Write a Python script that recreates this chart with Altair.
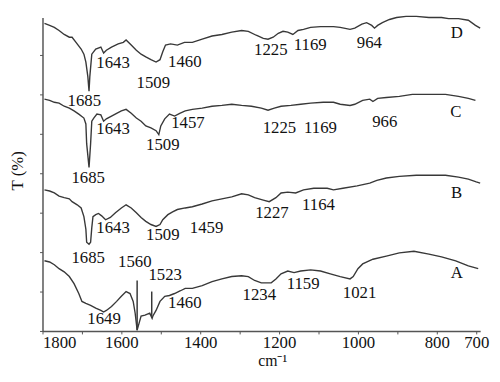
import altair as alt
import pandas as pd

# ---- spectra (wavenumber cm-1, transmittance in arbitrary offset units) ----
D_wn = [1795,1782,1770,1758,1745,1732,1725,1715,1702,1695,1690,1685,1682,1680,1675,1665,1652,1645,1638,1625,1608,1595,1588,1575,1562,1550,1538,1525,1512,1502,1495,1488,1475,1458,1440,1420,1395,1370,1345,1320,1295,1278,1258,1240,1228,1215,1202,1190,1178,1165,1152,1138,1120,1095,1062,1045,1020,1008,990,978,965,958,950,938,920,902,878,852,820,788,770,745,720,702,690]
D_T = [78,77.5,77,76.2,75.2,74.5,74.5,73.2,71.5,70.2,68.2,64.5,60.8,64.5,70.2,71.5,72,70.5,71.2,72,72.8,73.2,73.8,72.5,71.2,70.2,69.5,68.8,68.2,68.8,70.8,72.5,72.8,72.5,73.2,73.2,74,74.8,75.2,75.8,76.2,76,75,74.2,74,74.5,75.5,76,75.8,75.2,76.2,76.5,77,77.2,77.2,77,76.5,76.8,77.8,78.2,77.5,76.8,77.5,78.2,79,79.5,79.8,79.8,79.5,79.5,79.2,79.2,78.8,77.5,76.8]

C_wn = [1795,1782,1770,1758,1745,1732,1720,1708,1695,1690,1688,1682,1678,1675,1670,1662,1652,1645,1638,1625,1612,1600,1588,1575,1562,1550,1538,1525,1512,1505,1500,1490,1478,1465,1452,1438,1420,1395,1370,1345,1320,1295,1270,1245,1228,1212,1195,1170,1145,1120,1088,1062,1045,1020,1008,988,970,962,950,928,895,862,820,778,745,720,702]
C_T = [58.8,58.5,58,57.8,57,56.5,55.8,55,54,52.5,47.5,41.5,47.5,53.2,54,55,54.8,53.2,53.8,54.5,55.2,55.8,56.2,55.2,54,53.2,52,51.5,50.8,49.8,52,53.8,55,54.5,55.2,55.8,56.2,56.5,57,57.2,57.5,57.2,57,56.5,56,56.5,57,57.2,57.5,57.8,58,58,57.5,57.2,57.5,58.5,58.8,58.2,59,59.2,59.5,60,60,60,59.5,59,58.5]

B_wn = [1795,1782,1770,1758,1745,1732,1725,1712,1702,1695,1690,1688,1682,1678,1675,1672,1665,1658,1650,1640,1628,1615,1600,1588,1575,1562,1550,1538,1525,1512,1502,1495,1482,1470,1458,1438,1420,1395,1370,1345,1320,1295,1278,1262,1240,1225,1208,1195,1178,1158,1138,1112,1078,1062,1038,1002,970,952,928,895,852,820,778,745,720,700,690]
B_T = [35.8,35.5,35,34.2,33.8,33.5,32.8,32,31.2,29,25.8,22.5,22,22.5,26.2,29,29.5,29.8,29.2,28.2,28.8,30,31.2,32,31.2,30,28.8,27.8,27,26.5,27,28.2,29.5,30.2,30.8,31.2,31.5,32.2,33,33.5,34,34.8,34.5,33.8,33.2,32.8,33.8,35,35.2,35,35.8,36.2,36.2,35.8,36.2,36.8,37.5,38.2,38.8,39.2,39.5,39.5,39.5,39,38.5,37.8,37.5]

A_wn = [1795,1782,1770,1758,1745,1732,1720,1708,1700,1690,1678,1665,1652,1645,1638,1625,1612,1600,1588,1578,1570,1565,1560,1555,1550,1540,1528,1522,1520,1512,1502,1490,1478,1465,1450,1438,1420,1395,1370,1345,1320,1295,1278,1262,1245,1220,1208,1195,1178,1162,1145,1120,1095,1070,1045,1020,1012,1000,988,962,928,895,858,820,788,752,720,695]
A_T = [17.8,17.5,16.8,15.8,15,13.8,12,9.5,7.5,7,6.5,5.8,5.2,4.8,5.2,6.2,7.5,8.8,10,9.5,7.5,4.5,0.2,2,3.8,4,4.5,3.2,3.8,5.2,7.5,8.8,9,9.5,10.2,10.8,10.8,11.5,12.5,13.2,13.8,14,13.8,12.8,12.2,12.2,13.2,14.5,15.2,14.8,15.2,15.5,15.2,14.5,13.8,13.2,13.8,15.8,17,18.2,19,19.8,20.2,19.5,18.8,17.8,16.5,15.8]

# ---- peak pointer lines on spectrum A ----
ptr_wn = [1560, 1523]
ptr_top = [12.8, 10.0]
ptr_bot = [0.2, 3.8]

# ---- annotations ----
lab_text = ["1685","1643","1509","1460","1225","1169","964","D",
            "1685","1643","1509","1457","1225","1169","966","C",
            "1685","1643","1509","1459","1227","1164","B",
            "1649","1560","1523","1460","1234","1159","1021","A"]
lab_wn = [1694,1621,1519,1439,1221,1121,971,749,
          1684,1621,1495,1431,1199,1095,932,752,
          1684,1621,1495,1384,1218,1100,750,
          1644,1566,1489,1439,1250,1139,996,749]
lab_T = [58.2,67.9,62.9,68.2,71.2,72.4,72.9,75.5,
         38.9,51.1,47.2,52.6,51.4,51.4,53,55.5,
         18.4,26.1,24.4,26.1,30,31.9,34.9,
         2.9,17.6,14.1,7.2,9,12,9.5,14.8]

x_ticks = list(range(1800, 699, -100))
y_ticks = list(range(0, 80, 5))

rows = []
for name, wn, t in [("D", D_wn, D_T), ("C", C_wn, C_T), ("B", B_wn, B_T), ("A", A_wn, A_T)]:
    for w, v in zip(wn, t):
        rows.append({"s": name, "wn": w, "T": v})
spec = pd.DataFrame(rows)
ptr = pd.DataFrame({"wn": ptr_wn, "top": ptr_top, "bot": ptr_bot})
labs = pd.DataFrame({"text": lab_text, "wn": lab_wn, "T": lab_T})

FONT = "Liberation Serif"
LINE = "#383838"

xscale = alt.Scale(domain=[690, 1800], reverse=True, nice=False, zero=False)
yscale = alt.Scale(domain=[0, 79.5], nice=False, zero=False)

xaxis = alt.Axis(
    values=x_ticks, title="cm\u207b\u00b9", grid=False, format="d",
    labelExpr="(datum.value % 200 == 0 || datum.value == 700) ? datum.label : ''",
    labelAlign={"condition": {"test": "datum.value == 1800", "value": "left"}, "value": "center"},
    labelFont=FONT, labelFontSize=17, labelColor="#111", labelPadding=1,
    tickSize=3, tickColor="#555", domainColor="#555", domainWidth=1.5,
    titleFont=FONT, titleFontSize=16, titleFontWeight="normal", titleColor="#111",
    titleX=233, titleY=30, titleBaseline="middle", titleAlign="center",
)
yaxis = alt.Axis(
    values=y_ticks, labels=False, title="T (%)", grid=False,
    tickSize=3, tickColor="#555", domainColor="#555", domainWidth=1.5,
    titleFont=FONT, titleFontSize=17, titleFontWeight="normal", titleColor="#111",
    titleX=-25, titleY=155, titleBaseline="middle", titleAlign="center", titleAngle=-90,
)

lines = alt.Chart(spec).mark_line(color=LINE, strokeWidth=1.4).encode(
    x=alt.X("wn:Q", scale=xscale, axis=xaxis),
    y=alt.Y("T:Q", scale=yscale, axis=yaxis),
    detail="s:N",
    order="wn:Q",
)

rules = alt.Chart(ptr).mark_rule(color=LINE, strokeWidth=1.5).encode(
    x=alt.X("wn:Q", scale=xscale),
    y=alt.Y("top:Q", scale=yscale),
    y2="bot:Q",
)

texts = alt.Chart(labs).mark_text(font=FONT, fontSize=17, color="#111",
                                  align="center", baseline="middle").encode(
    x=alt.X("wn:Q", scale=xscale),
    y=alt.Y("T:Q", scale=yscale),
    text="text:N",
)

chart = alt.layer(lines, rules, texts).properties(
    width=444, height=318,
    autosize=alt.AutoSizeParams(type="none"),
    padding={"left": 35, "top": 7, "right": 12, "bottom": 40},
    background="white",
).configure_view(stroke=None)

chart.save("out.html", embed_options={"renderer": "svg", "actions": False})
